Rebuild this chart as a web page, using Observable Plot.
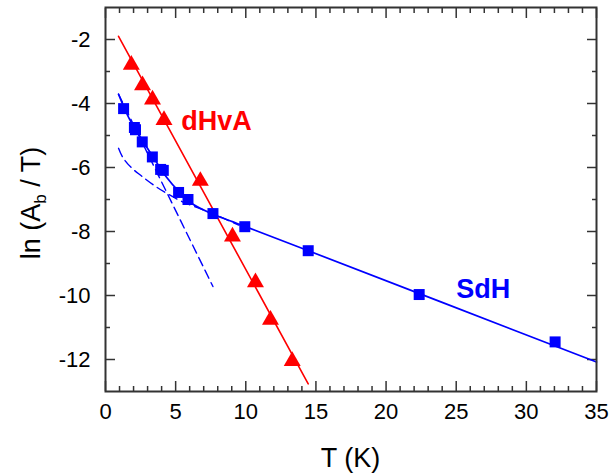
<!DOCTYPE html>
<html><head><meta charset="utf-8">
<script src="https://cdn.jsdelivr.net/npm/d3@7"></script>
<script src="https://cdn.jsdelivr.net/npm/@observablehq/plot@0.6"></script>
<style>
body{margin:0;background:#fff}
#chart{width:611px;height:473px}
</style>
</head><body><div id="chart"></div>
<script>
// ---- data ----
// dHvA (red triangles)
const dhvaT = [1.84, 2.64, 3.35, 4.17, 6.76, 9.05, 10.69, 11.76, 13.31];
const dhvaV = [-2.79, -3.43, -3.88, -4.52, -6.42, -8.16, -9.59, -10.76, -12.05];
// dHvA fit line (red)
const dhvaFitT = [0.93, 14.45];
const dhvaFitV = [-1.90, -12.76];
// SdH (blue squares)
const sdhT = [1.29, 2.06, 2.14, 2.62, 3.34, 3.93, 4.12, 5.21, 5.88, 7.66, 9.93, 14.45, 22.36, 32.05];
const sdhV = [-4.16, -4.75, -4.82, -5.20, -5.67, -6.06, -6.09, -6.78, -7.00, -7.44, -7.85, -8.60, -9.97, -11.45];
// SdH total fit (blue solid)
const sdhFitT = [0.93, 1.71, 2.66, 3.5, 4.34, 5.29, 6.24, 7.66, 9.09, 9.93, 13.86, 35];
const sdhFitV = [-3.71, -4.49, -5.17, -5.74, -6.30, -6.78, -7.15, -7.46, -7.70, -7.84, -8.50, -12.08];
// SdH component 1 (steep, dashed)
const comp1T = [0.93, 7.66];
const comp1V = [-3.71, -9.72];
// SdH component 2 (shallow, dashed)
const comp2T = [0.93, 1.24, 1.83, 2.55, 3.5, 4.45, 5.64, 6.83, 7.79, 9.5];
const comp2V = [-5.40, -5.69, -6.00, -6.26, -6.57, -6.83, -7.10, -7.30, -7.47, -7.80];
// labels
const seriesLabels = ["dHvA", "SdH"];
const labelT = [5.4, 25.0];
const labelV = [-4.55, -9.8];
const labelColors = ["#ff0000", "#0000ff"];
// axes
const xMajor = [0, 5, 10, 15, 20, 25, 30, 35];
const xMajorLabels = ["0", "5", "10", "15", "20", "25", "30", "35"];
const xMinor = [1,2,3,4,6,7,8,9,11,12,13,14,16,17,18,19,21,22,23,24,26,27,28,29,31,32,33,34];
const yMajor = [-2, -4, -6, -8, -10, -12];
const yMajorLabels = ["-2", "-4", "-6", "-8", "-10", "-12"];
const yMinor = [-3, -5, -7, -9, -11];
const xTitle = "T (K)";

const pts = (T, V) => T.map((t, i) => ({T: t, V: V[i]}));
const tri = pts(dhvaT, dhvaV);
const sq = pts(sdhT, sdhV);
const labels = seriesLabels.map((s, i) => ({s, T: labelT[i], V: labelV[i], c: labelColors[i]}));
const xLab = t => xMajorLabels[xMajor.indexOf(t)];
const yLab = v => yMajorLabels[yMajor.indexOf(v)];
const axisColor = "#333";
const F = "Liberation Sans, Arial, sans-serif";

const chart = Plot.plot({
  width: 611, height: 473,
  marginLeft: 105, marginRight: 15, marginTop: 7, marginBottom: 82,
  style: {fontFamily: F, background: "#fff", color: "#000"},
  x: {domain: [0, 35]},
  y: {domain: [-13, -1]},
  marks: [
    // tick labels
    Plot.axisX(xMajor, {anchor: "bottom", tickSize: 0, tickPadding: 12, tickFormat: xLab, fontSize: 22, fill: "#000", label: null}),
    Plot.axisY(yMajor, {anchor: "left", tickSize: 0, tickPadding: 15, tickFormat: yLab, fontSize: 22, fill: "#000", label: null}),
    // inward ticks, four sides
    Plot.axisX(xMajor, {anchor: "bottom", tickSize: -10, tickFormat: () => "", stroke: axisColor, strokeWidth: 1.5, label: null}),
    Plot.axisX(xMinor, {anchor: "bottom", tickSize: -5, tickFormat: () => "", stroke: axisColor, strokeWidth: 1.5, label: null}),
    Plot.axisX(xMajor, {anchor: "top", tickSize: -10, tickFormat: () => "", stroke: axisColor, strokeWidth: 1.5, label: null}),
    Plot.axisX(xMinor, {anchor: "top", tickSize: -5, tickFormat: () => "", stroke: axisColor, strokeWidth: 1.5, label: null}),
    Plot.axisY(yMajor, {anchor: "left", tickSize: -10, tickFormat: () => "", stroke: axisColor, strokeWidth: 1.5, label: null}),
    Plot.axisY(yMinor, {anchor: "left", tickSize: -5, tickFormat: () => "", stroke: axisColor, strokeWidth: 1.5, label: null}),
    Plot.axisY(yMajor, {anchor: "right", tickSize: -10, tickFormat: () => "", stroke: axisColor, strokeWidth: 1.5, label: null}),
    Plot.axisY(yMinor, {anchor: "right", tickSize: -5, tickFormat: () => "", stroke: axisColor, strokeWidth: 1.5, label: null}),
    // fits
    Plot.line(pts(comp1T, comp1V), {x: "T", y: "V", stroke: "#0000ff", strokeWidth: 1.4, strokeDasharray: "9,5"}),
    Plot.line(pts(comp2T, comp2V), {x: "T", y: "V", stroke: "#0000ff", strokeWidth: 1.4, strokeDasharray: "9,5", curve: "catmull-rom"}),
    Plot.line(pts(sdhFitT, sdhFitV), {x: "T", y: "V", stroke: "#0000ff", strokeWidth: 1.7, curve: "catmull-rom"}),
    Plot.line(pts(dhvaFitT, dhvaFitV), {x: "T", y: "V", stroke: "#ff0000", strokeWidth: 1.6}),
    // data
    Plot.dot(sq, {x: "T", y: "V", symbol: "square", r: 6.2, fill: "#0000ff", stroke: "none"}),
    Plot.dot(tri, {x: "T", y: "V", symbol: "triangle", r: 6.3, fill: "#ff0000", stroke: "none"}),
    // series labels
    Plot.text(labels, {x: "T", y: "V", text: "s", fill: "c", fontSize: 27, fontWeight: "bold", textAnchor: "start"}),
    Plot.frame({stroke: axisColor, strokeWidth: 2})
  ]
});
document.getElementById("chart").appendChild(chart);

// axis titles
const svg = d3.select(chart);
svg.append("text")
  .attr("x", 350.5).attr("y", 467)
  .attr("text-anchor", "middle")
  .attr("font-family", F).attr("font-size", 27).attr("fill", "#000")
  .text(xTitle);
const yt = svg.append("text")
  .attr("transform", "translate(40,203) rotate(-90)")
  .attr("text-anchor", "middle")
  .attr("font-family", F).attr("font-size", 27).attr("fill", "#000");
yt.append("tspan").text("ln (A");
yt.append("tspan").attr("font-size", 17).attr("dy", 6).text("b");
yt.append("tspan").attr("dy", -6).text(" / T)");
</script>
</body></html>
